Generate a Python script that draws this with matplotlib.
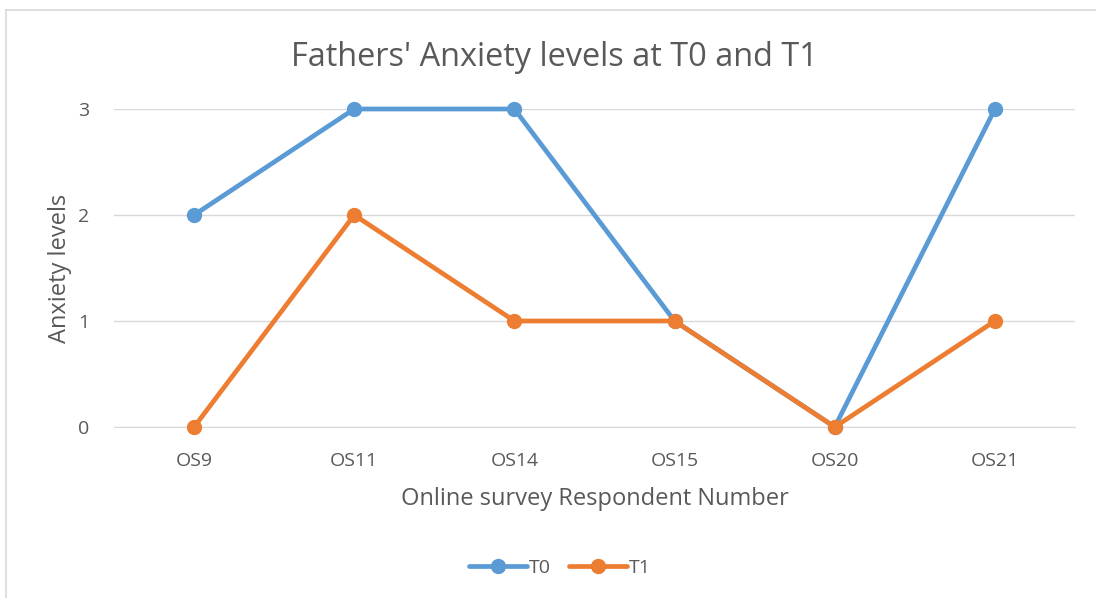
import matplotlib.pyplot as plt
from matplotlib.lines import Line2D

# data
respondents = ['OS9', 'OS11', 'OS14', 'OS15', 'OS20', 'OS21']
t0 = [2, 3, 3, 1, 0, 3]
t1 = [0, 2, 1, 1, 0, 1]
yticks = [0, 1, 2, 3]

plt.rcParams['font.family'] = ['Open Sans', 'DejaVu Sans']

fig = plt.figure(figsize=(10.96, 5.98), dpi=100)
ax = fig.add_axes([114 / 1096, 171 / 598, 961 / 1096, 318 / 598])

x = list(range(len(respondents)))
ax.plot(x, t0, color='#5B9BD5', lw=3.4, marker='o', ms=10, label='T0',
        solid_capstyle='round', zorder=3)
ax.plot(x, t1, color='#ED7D31', lw=3.4, marker='o', ms=10, label='T1',
        solid_capstyle='round', zorder=4)

ax.set_xlim(-0.5, len(respondents) - 0.5)
ax.set_ylim(0, 3)
ax.set_xticks(x)
ax.set_xticklabels(respondents)
ax.set_yticks(yticks)
ax.tick_params(length=0, labelsize=14, labelcolor='#595959')
ax.tick_params(axis='x', pad=18)
ax.tick_params(axis='y', pad=18)
ax.grid(axis='y', color='#D9D9D9', lw=1)
ax.set_axisbelow(True)
for s in ['top', 'right', 'left']:
    ax.spines[s].set_visible(False)
ax.spines['bottom'].set_color('#D9D9D9')
ax.spines['bottom'].set_zorder(1)
for ln in ax.lines:
    ln.set_clip_on(False)

# title centred on the whole chart area, not the plot area
fig.text(554 / 1096, 1 - 57 / 598, "Fathers' Anxiety levels at T0 and T1", fontsize=23.4,
         color='#595959', ha='center', va='center')
ax.set_xlabel('Online survey Respondent Number', fontsize=17, color='#595959', labelpad=12)
ax.set_ylabel('Anxiety levels', fontsize=17, color='#595959', labelpad=4)

handles = [Line2D([], [], color='#5B9BD5', lw=3.4, marker='o', ms=10, solid_capstyle='round'),
           Line2D([], [], color='#ED7D31', lw=3.4, marker='o', ms=10, solid_capstyle='round')]
leg = fig.legend(handles, ['T0', 'T1'], loc='center', bbox_to_anchor=(560 / 1096, 1 - 568 / 598),
                 ncol=2, frameon=False, fontsize=14, handlelength=3.0, columnspacing=0.9,
                 handletextpad=0.1)
for t in leg.get_texts():
    t.set_color('#595959')

# chart border (left and top visible in the crop)
fig.add_artist(Line2D([6 / 1096, 6 / 1096], [0, 1 - 10 / 598], color='#D9D9D9', lw=1.2,
                      transform=fig.transFigure))
fig.add_artist(Line2D([6 / 1096, 1], [1 - 10 / 598, 1 - 10 / 598], color='#D9D9D9', lw=1.2,
                      transform=fig.transFigure))

fig.savefig('out.png', dpi=100)
